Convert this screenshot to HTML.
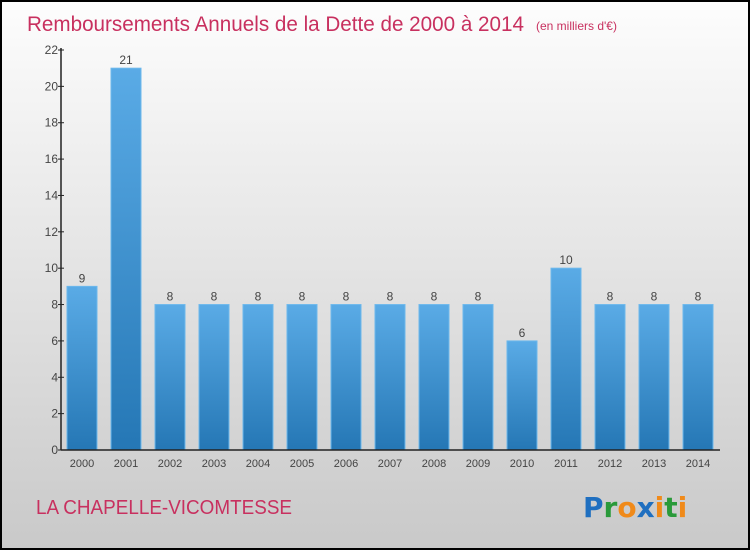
<!DOCTYPE html>
<html><head><meta charset="utf-8">
<style>
body{margin:0;width:750px;height:550px;overflow:hidden;font-family:"Liberation Sans",sans-serif}
</style></head>
<body>
<svg id="c" width="750" height="550" xmlns="http://www.w3.org/2000/svg">
<defs>
<linearGradient id="bg" x1="0" y1="0" x2="0" y2="1"><stop offset="0" stop-color="#fdfdfd"/><stop offset="1" stop-color="#c9c9c9"/></linearGradient>
<linearGradient id="bar" x1="0" y1="0" x2="0" y2="1"><stop offset="0" stop-color="#5aabe6"/><stop offset="1" stop-color="#2577b5"/></linearGradient>
</defs>
<rect x="1" y="1" width="748" height="548" fill="url(#bg)" stroke="#000" stroke-width="2"/>
<text x="27" y="31" font-size="21" fill="#c8305f" textLength="497" lengthAdjust="spacingAndGlyphs">Remboursements Annuels de la Dette de 2000 à 2014</text>
<text x="536" y="30" font-size="12" fill="#c8305f">(en milliers d'€)</text>
<g id="plot"></g>
<text x="36" y="514" font-size="20" fill="#c8305f" textLength="256" lengthAdjust="spacingAndGlyphs">LA CHAPELLE-VICOMTESSE</text>
<g font-size="28" font-weight="bold" font-family="DejaVu Sans, sans-serif">
<text x="583" y="517"><tspan fill="#1f6fc0">P</tspan><tspan fill="#2a9a3a">r</tspan><tspan fill="#f08a1a">o</tspan><tspan fill="#1f6fc0">x</tspan><tspan fill="#f08a1a">i</tspan><tspan fill="#2a9a3a">t</tspan><tspan fill="#f08a1a">i</tspan></text>
</g>
</svg>
<script>
const categories=["2000","2001","2002","2003","2004","2005","2006","2007","2008","2009","2010","2011","2012","2013","2014"];
const values=[9,21,8,8,8,8,8,8,8,8,6,10,8,8,8];
const yTicks=[0,2,4,6,8,10,12,14,16,18,20,22];
const NS="http://www.w3.org/2000/svg";
const g=document.getElementById('plot');
const y0=450,yTop=50,yMax=22,xAxis=61;
const y=v=>y0-(y0-yTop)*v/yMax;
const xc=i=>82+i*44;
function mk(t,a){const e=document.createElementNS(NS,t);for(const k in a)e.setAttribute(k,a[k]);g.appendChild(e);return e;}
values.forEach((v,i)=>{
 const r=mk('rect',{x:xc(i)-15,y:y(v),width:30,height:y0-y(v),fill:'url(#bar)',stroke:'#6cb8ec','stroke-width':1});
 
 
 const t=mk('text',{x:xc(i),y:y(v)-4,'font-size':12,fill:'#444','text-anchor':'middle'});
 t.textContent=v;
 
 
 const c=mk('text',{x:xc(i),y:467,'font-size':11,fill:'#444','text-anchor':'middle'});
 c.textContent=categories[i];
 
 
});
yTicks.forEach(v=>{
 const l=mk('line',{x1:xAxis-3,x2:xAxis+3,y1:y(v),y2:y(v),stroke:'#222'});
 
 
 const t=mk('text',{x:xAxis-3,y:y(v)+4,'font-size':12,fill:'#444','text-anchor':'end'});
 t.textContent=v;
 
 
});
const ya=mk('line',{x1:xAxis,x2:xAxis,y1:yTop-2,y2:y0,stroke:'#222','stroke-width':1.5});


const xa=mk('line',{x1:xAxis,x2:720,y1:y0,y2:y0,stroke:'#222','stroke-width':1.5});


</script>
</body></html>
